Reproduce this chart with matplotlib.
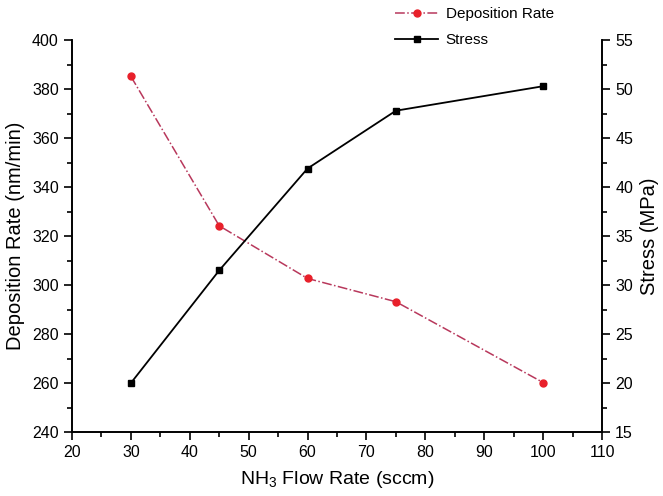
import matplotlib
matplotlib.use('Agg')
import matplotlib.pyplot as plt
from matplotlib.ticker import MultipleLocator

plt.rcParams['font.family'] = ['Liberation Sans', 'DejaVu Sans']
plt.rcParams['mathtext.fontset'] = 'custom'
plt.rcParams['mathtext.rm'] = 'Liberation Sans'
plt.rcParams['mathtext.it'] = 'Liberation Sans:italic'

# 数据
flow_rate = [30, 45, 60, 75, 100]
deposition_rate = [385.2, 324.2, 302.7, 293.2, 260.2]
stress = [20.0, 31.5, 41.9, 47.8, 50.3]

fig = plt.figure(figsize=(6.63, 4.96), dpi=100)
ax = fig.add_axes([0.1086, 0.129, 0.7994, 0.790])
ax2 = ax.twinx()

l1, = ax.plot(flow_rate, deposition_rate, linestyle='-.', color='#b8385c', linewidth=1.1,
              marker='o', markersize=5, markerfacecolor='#e8202a', markeredgecolor='#e8202a',
              label='Deposition Rate')
l2, = ax2.plot(flow_rate, stress, linestyle='-', color='black', linewidth=1.3,
               marker='s', markersize=5, markerfacecolor='black', markeredgecolor='black',
               label='Stress')

ax.set_xlim(20, 110)
ax.set_ylim(240, 400)
ax2.set_ylim(15, 55)

ax.xaxis.set_major_locator(MultipleLocator(10))
ax.xaxis.set_minor_locator(MultipleLocator(5))
ax.yaxis.set_major_locator(MultipleLocator(20))
ax.yaxis.set_minor_locator(MultipleLocator(10))
ax2.yaxis.set_major_locator(MultipleLocator(5))
ax2.yaxis.set_minor_locator(MultipleLocator(2.5))

for a in (ax, ax2):
    a.spines['top'].set_visible(False)
    for s in a.spines.values():
        s.set_linewidth(1.2)
    a.tick_params(which='major', direction='out', length=6, width=1.2, labelsize=11.5)
    a.tick_params(which='minor', direction='out', length=3.5, width=1.2)

ax.set_xlabel('NH$_3$ Flow Rate (sccm)', fontsize=14, labelpad=6)
ax.set_ylabel('Deposition Rate (nm/min)', fontsize=14.5, labelpad=5)
ax2.set_ylabel('Stress (MPa)', fontsize=14.5, labelpad=5)

fig.legend(handles=[l1, l2], loc='upper left', bbox_to_anchor=(0.587, 0.998),
           borderaxespad=0, frameon=False, fontsize=11, handlelength=2.8,
           handletextpad=0.5, labelspacing=0.78)

fig.savefig('out.png', dpi=100)
